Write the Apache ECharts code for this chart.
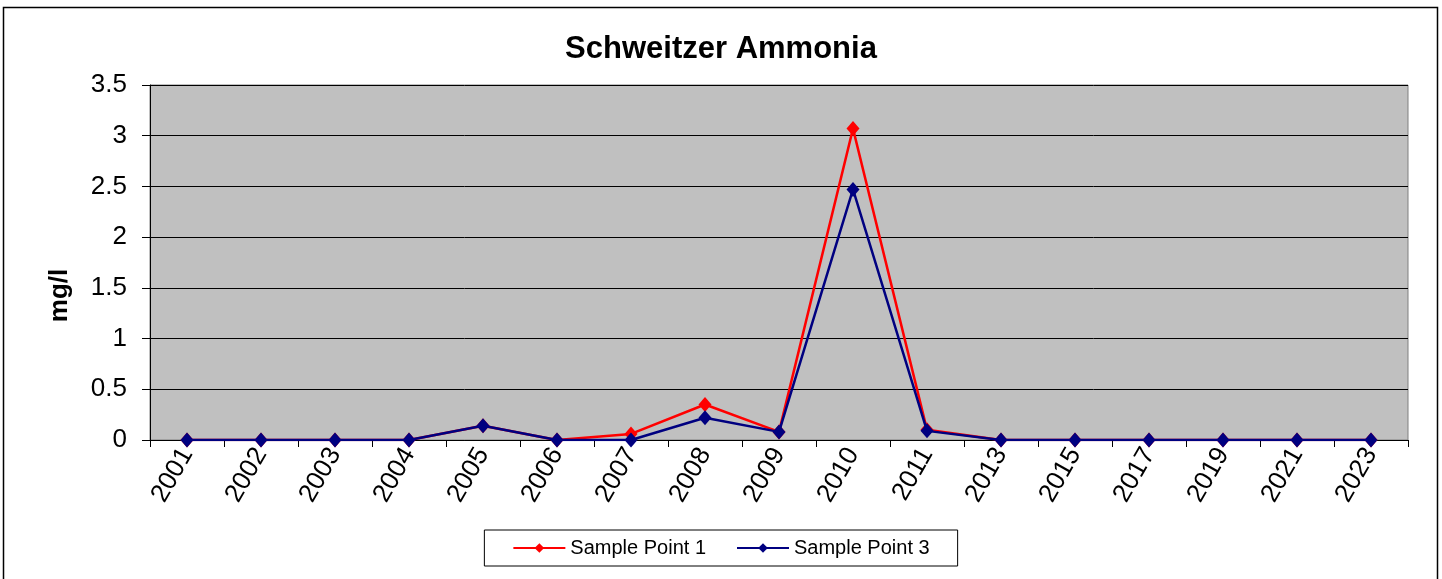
<!DOCTYPE html>
<html>
<head>
<meta charset="utf-8">
<script src="https://cdn.jsdelivr.net/npm/echarts@6/dist/echarts.min.js"></script>
<style>
  html, body { margin: 0; padding: 0; background: #fff; }
  #chart { width: 1442px; height: 579px; }
</style>
</head>
<body>
<div id="chart"></div>
<script>
const years = ['2001', '2002', '2003', '2004', '2005', '2006', '2007', '2008', '2009',
    '2010', '2011', '2013', '2015', '2017', '2019', '2021', '2023'];
const samplePoint1 = [0, 0, 0, 0, 0.14, 0, 0.06, 0.35, 0.08, 3.07, 0.1, 0, 0, 0, 0, 0, 0];
const samplePoint3 = [0, 0, 0, 0, 0.14, 0, 0, 0.22, 0.08, 2.47, 0.09, 0, 0, 0, 0, 0, 0];

const font = 'Arial, "Liberation Sans", sans-serif';

const chart = echarts.init(document.getElementById('chart'));
chart.setOption({
    animation: false,
    backgroundColor: '#fff',
    textStyle: { fontFamily: font },
    graphic: [{
        type: 'rect',
        shape: { x: 3.5, y: 7.5, width: 1434, height: 580 },
        style: { fill: 'none', stroke: '#000', lineWidth: 1.5 },
        silent: true,
    }],
    title: {
        text: 'Schweitzer Ammonia',
        left: 'center',
        top: 29,
        textStyle: { fontSize: 31, fontWeight: 'bold', color: '#000', fontFamily: font },
    },
    legend: {
        bottom: 13,
        left: 'center',
        itemWidth: 52,
        itemHeight: 12,
        itemGap: 30,
        padding: [8, 28, 8, 28],
        borderColor: '#000',
        borderWidth: 1,
        textStyle: { fontSize: 20, color: '#000', fontFamily: font },
        data: ['Sample Point 1', 'Sample Point 3'],
    },
    grid: {
        left: 150,
        right: 34,
        top: 85,
        bottom: 139,
        show: true,
        backgroundColor: '#c0c0c0',
        borderColor: '#808080',
        borderWidth: 1,
    },
    xAxis: {
        type: 'category',
        data: years,
        boundaryGap: true,
        axisLine: { lineStyle: { color: '#000', width: 1 } },
        axisTick: { show: true, length: 7, lineStyle: { color: '#000' } },
        axisLabel: {
            rotate: 60,
            fontSize: 26,
            color: '#000',
            margin: 10,
            fontFamily: font,
        },
    },
    yAxis: {
        type: 'value',
        min: 0,
        max: 3.5,
        interval: 0.5,
        name: 'mg/l',
        nameLocation: 'middle',
        nameGap: 77,
        nameRotate: 90,
        nameTextStyle: {
            fontSize: 26, fontWeight: 'bold', color: '#000', fontFamily: font,
            padding: [0, 66, 0, 0],
        },
        axisLine: { show: true, lineStyle: { color: '#000' } },
        axisTick: { show: true, length: 8, lineStyle: { color: '#000' } },
        axisLabel: { fontSize: 26, color: '#000', margin: 23, fontFamily: font },
        splitLine: { lineStyle: { color: '#000', width: 1 } },
    },
    series: [
        {
            name: 'Sample Point 1',
            type: 'line',
            data: samplePoint1,
            symbol: 'diamond',
            symbolSize: [13, 15],
            color: '#ff0000',
            lineStyle: { color: '#ff0000', width: 2.5 },
            itemStyle: { color: '#ff0000' },
            z: 2,
        },
        {
            name: 'Sample Point 3',
            type: 'line',
            data: samplePoint3,
            symbol: 'diamond',
            symbolSize: [13, 15],
            color: '#000080',
            lineStyle: { color: '#000080', width: 2.5 },
            itemStyle: { color: '#000080' },
            z: 3,
        },
    ],
});
</script>
</body>
</html>
